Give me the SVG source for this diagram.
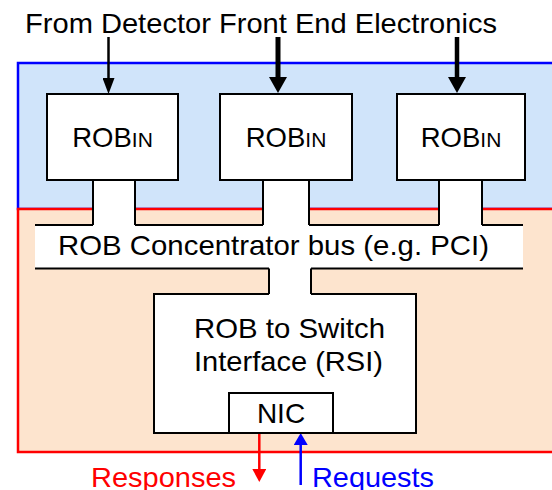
<svg xmlns="http://www.w3.org/2000/svg" width="552" height="490" viewBox="0 0 552 490">
<defs>
<style>
text{font-family:"Liberation Sans",Arial,sans-serif;fill:#000}
.box{fill:#fff;stroke:#000;stroke-width:2}
.edge{stroke:#000;stroke-width:2;fill:none}
.strip{fill:#fff;stroke:none}
.t28{font-size:28px}
</style>
<marker id="hk1" markerUnits="userSpaceOnUse" markerWidth="16" markerHeight="12" refX="0" refY="6" orient="auto"><path d="M0,0 L16,6 L0,12 z" fill="#000"/></marker>
<marker id="hk2" markerUnits="userSpaceOnUse" markerWidth="16" markerHeight="18" refX="0" refY="9" orient="auto"><path d="M0,0 L16,9 L0,18 z" fill="#000"/></marker>
<marker id="hr" markerUnits="userSpaceOnUse" markerWidth="13" markerHeight="14" refX="0" refY="7" orient="auto"><path d="M0,0 L13,7 L0,14 z" fill="#f00"/></marker>
<marker id="hb" markerUnits="userSpaceOnUse" markerWidth="12" markerHeight="14" refX="0" refY="7" orient="auto"><path d="M0,0 L12,7 L0,14 z" fill="#00f"/></marker>
</defs>

<g id="region-detector">
<rect x="18" y="63" width="560" height="146" fill="#d0e4fa" stroke="#0000ff" stroke-width="2.5"/>
</g>
<g id="region-rob">
<rect x="18" y="209" width="560" height="243" fill="#fde4ce" stroke="#ff0000" stroke-width="2.5"/>
</g>

<text x="25" y="33" class="t28" textLength="472" lengthAdjust="spacingAndGlyphs">From Detector Front End Electronics</text>

<g id="connectors">
<rect class="strip" x="93" y="180" width="42" height="46"/>
<rect class="strip" x="263" y="180" width="46" height="46"/>
<rect class="strip" x="439" y="180" width="43" height="46"/>
<path class="edge" d="M93,180V225 M135,180V225 M263,180V225 M309,180V225 M439,180V225 M482,180V225"/>
<rect class="strip" x="269" y="267" width="42" height="28"/>
<path class="edge" d="M269,268V294 M311,268V294"/>
<line x1="269" y1="267.5" x2="311" y2="267.5" stroke="#c8c8c8" stroke-width="1"/>
<line x1="108.5" y1="37" x2="108.5" y2="78" stroke="#000" stroke-width="2.5" marker-end="url(#hk1)"/>
<line x1="278" y1="37" x2="278" y2="77" stroke="#000" stroke-width="5" marker-end="url(#hk2)"/>
<line x1="457" y1="37" x2="457" y2="77" stroke="#000" stroke-width="4.5" marker-end="url(#hk2)"/>
<line x1="259.3" y1="434" x2="259.3" y2="469" stroke="#f00" stroke-width="2.5" marker-end="url(#hr)"/>
<line x1="300.7" y1="485" x2="300.7" y2="445" stroke="#00f" stroke-width="2.5" marker-end="url(#hb)"/>
</g>

<g id="robin1">
<rect class="box" x="47" y="94" width="131" height="86"/>
<text x="112.5" y="147" text-anchor="middle" font-size="27.5">ROB<tspan font-size="21">IN</tspan></text>
</g>
<g id="robin2">
<rect class="box" x="220" y="94" width="132" height="86"/>
<text x="286" y="147" text-anchor="middle" font-size="27.5">ROB<tspan font-size="21">IN</tspan></text>
</g>
<g id="robin3">
<rect class="box" x="397" y="94" width="128" height="86"/>
<text x="461" y="147" text-anchor="middle" font-size="27.5">ROB<tspan font-size="21">IN</tspan></text>
</g>

<g id="bus">
<rect x="35" y="225" width="488" height="43.5" fill="#fff"/>
<path class="edge" d="M35,225H93 M135,225H263 M309,225H439 M482,225H523 M35,268.5H269 M311,268.5H523"/>
<text x="58" y="255" class="t28" textLength="431" lengthAdjust="spacingAndGlyphs">ROB Concentrator bus (e.g. PCI)</text>
</g>

<g id="rsi">
<rect x="154" y="294" width="262" height="139" fill="#fff"/>
<path class="edge" d="M269,294H154V433H416V294H311"/>
<text x="194" y="338" class="t28" textLength="191" lengthAdjust="spacingAndGlyphs">ROB to Switch</text>
<text x="194" y="371" class="t28" textLength="189" lengthAdjust="spacingAndGlyphs">Interface (RSI)</text>
</g>

<g id="nic">
<rect class="box" x="229" y="393" width="104" height="40"/>
<text x="281" y="423" text-anchor="middle" class="t28">NIC</text>
</g>

<text x="91" y="487" class="t28" style="fill:#f00" textLength="145" lengthAdjust="spacingAndGlyphs">Responses</text>
<text x="312" y="487" class="t28" style="fill:#00f" textLength="122" lengthAdjust="spacingAndGlyphs">Requests</text>
</svg>
